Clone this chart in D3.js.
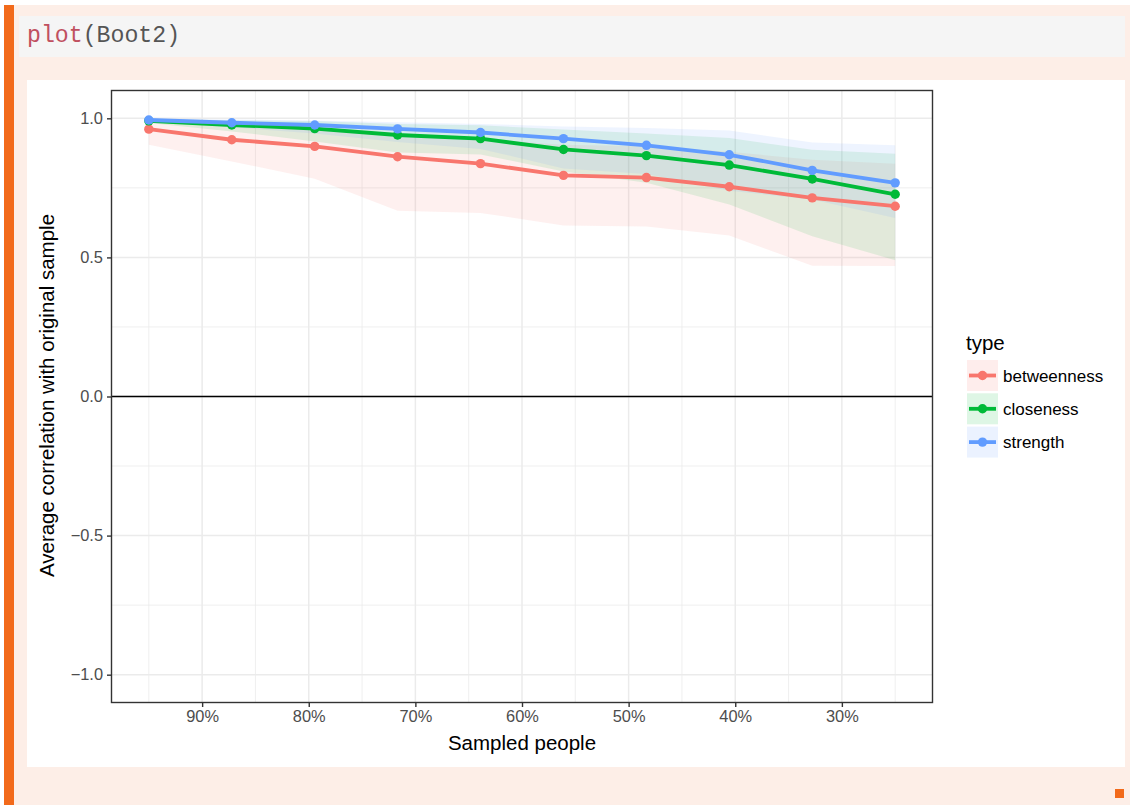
<!DOCTYPE html>
<html>
<head>
<meta charset="utf-8">
<script src="https://cdn.jsdelivr.net/npm/d3@7"></script>
<style>
  body { margin: 0; background: #ffffff; }
  svg text { font-family: "Liberation Sans", Arial, Helvetica, sans-serif; }
</style>
</head>
<body>
<div id="chart"></div>
<script>
// Sampled proportion of people (case-dropping bootstrap), in %
var sampled = [95, 87.22, 79.44, 71.67, 63.89, 56.11, 48.33, 40.56, 32.78, 25];

// mean correlation with the original sample
var betweenness = [0.961, 0.923, 0.899, 0.862, 0.837, 0.795, 0.787, 0.754, 0.714, 0.684];
var closeness   = [0.991, 0.976, 0.963, 0.940, 0.927, 0.888, 0.866, 0.832, 0.782, 0.727];
var strength    = [0.994, 0.984, 0.976, 0.962, 0.949, 0.927, 0.903, 0.869, 0.813, 0.768];

// quantile ribbons (lower / upper)
var betweennessLo = [0.905, 0.845, 0.783, 0.668, 0.660, 0.615, 0.611, 0.579, 0.470, 0.469];
var betweennessHi = [0.990, 0.975, 0.960, 0.940, 0.925, 0.905, 0.900, 0.880, 0.851, 0.837];
var closenessLo   = [0.983, 0.953, 0.917, 0.877, 0.870, 0.809, 0.768, 0.690, 0.576, 0.490];
var closenessHi   = [0.998, 0.993, 0.990, 0.980, 0.975, 0.960, 0.945, 0.929, 0.887, 0.873];
var strengthLo    = [0.988, 0.968, 0.945, 0.915, 0.890, 0.820, 0.800, 0.740, 0.708, 0.642];
var strengthHi    = [0.999, 0.996, 0.992, 0.986, 0.980, 0.971, 0.965, 0.956, 0.913, 0.903];

var xTicks = [90, 80, 70, 60, 50, 40, 30];
var xMinor = [95, 85, 75, 65, 55, 45, 35, 25];
var yTicks = [-1, -0.5, 0, 0.5, 1];
var yMinor = [-0.75, -0.25, 0.25, 0.75];

var types = ["betweenness", "closeness", "strength"];
var colors = ["#F8766D", "#00BA38", "#619CFF"];

var series = [
  { name: "betweenness", mean: betweenness, lo: betweennessLo, hi: betweennessHi },
  { name: "closeness", mean: closeness, lo: closenessLo, hi: closenessHi },
  { name: "strength", mean: strength, lo: strengthLo, hi: strengthHi }
];

var svgWidth = 1130;
var svgHeight = 805;

var svg = d3.select("#chart")
  .append("svg")
  .attr("width", svgWidth)
  .attr("height", svgHeight);

// page chrome: peach block with orange bar, code line, white plot card
svg.append("rect").attr("x", 4).attr("y", 5).attr("width", 1126).attr("height", 800).attr("fill", "#fdeee7");
svg.append("rect").attr("x", 4).attr("y", 5).attr("width", 10).attr("height", 800).attr("fill", "#f26a1b");
svg.append("rect").attr("x", 19).attr("y", 16).attr("width", 1106).attr("height", 41).attr("fill", "#f5f5f5");
svg.append("rect").attr("x", 27).attr("y", 80).attr("width", 1098).attr("height", 687).attr("fill", "#ffffff");
svg.append("rect").attr("x", 1115).attr("y", 789).attr("width", 9).attr("height", 9).attr("fill", "#f26a1b");

var code = svg.append("text")
  .attr("x", 27)
  .attr("y", 42)
  .style("font-family", "'Liberation Mono', 'DejaVu Sans Mono', monospace")
  .style("font-size", "23.2px");
code.append("tspan").attr("fill", "#c0505f").text("plot");
code.append("tspan").attr("fill", "#555555").text("(Boot2)");

// panel
var panel = { left: 111.5, right: 932.5, top: 90.5, bottom: 702.5 };

var x = d3.scaleLinear()
  .domain([98.5, 21.5])
  .range([panel.left, panel.right]);

var y = d3.scaleLinear()
  .domain([-1.1, 1.1])
  .range([panel.bottom, panel.top]);

var grid = svg.append("g");

grid.selectAll(".xminor").data(xMinor).enter().append("line")
  .attr("x1", d => x(d)).attr("x2", d => x(d))
  .attr("y1", panel.top).attr("y2", panel.bottom)
  .attr("stroke", "#ebebeb").attr("stroke-width", 0.8);
grid.selectAll(".yminor").data(yMinor).enter().append("line")
  .attr("y1", d => y(d)).attr("y2", d => y(d))
  .attr("x1", panel.left).attr("x2", panel.right)
  .attr("stroke", "#ebebeb").attr("stroke-width", 0.8);
grid.selectAll(".xmajor").data(xTicks).enter().append("line")
  .attr("x1", d => x(d)).attr("x2", d => x(d))
  .attr("y1", panel.top).attr("y2", panel.bottom)
  .attr("stroke", "#ebebeb").attr("stroke-width", 1.5);
grid.selectAll(".ymajor").data(yTicks).enter().append("line")
  .attr("y1", d => y(d)).attr("y2", d => y(d))
  .attr("x1", panel.left).attr("x2", panel.right)
  .attr("stroke", "#ebebeb").attr("stroke-width", 1.5);

// ribbons
var area = d3.area()
  .x(d => x(d.s))
  .y0(d => y(d.lo))
  .y1(d => y(d.hi));

series.forEach(function(s, i) {
  var pts = sampled.map((v, j) => ({ s: v, lo: s.lo[j], hi: s.hi[j] }));
  svg.append("path")
    .datum(pts)
    .attr("d", area)
    .attr("fill", colors[i])
    .attr("fill-opacity", 0.11);
});

// zero line
svg.append("line")
  .attr("x1", panel.left).attr("x2", panel.right)
  .attr("y1", y(0)).attr("y2", y(0))
  .attr("stroke", "#000000").attr("stroke-width", 1.6);

// lines and points
var line = d3.line()
  .x(d => x(d.s))
  .y(d => y(d.v));

series.forEach(function(s, i) {
  var pts = sampled.map((v, j) => ({ s: v, v: s.mean[j] }));
  svg.append("path")
    .datum(pts)
    .attr("d", line)
    .attr("fill", "none")
    .attr("stroke", colors[i])
    .attr("stroke-width", 3.8);
  svg.selectAll(".pt" + i)
    .data(pts)
    .enter()
    .append("circle")
    .attr("cx", d => x(d.s))
    .attr("cy", d => y(d.v))
    .attr("r", 4.7)
    .attr("fill", colors[i]);
});

// panel border
svg.append("rect")
  .attr("x", panel.left).attr("y", panel.top)
  .attr("width", panel.right - panel.left)
  .attr("height", panel.bottom - panel.top)
  .attr("fill", "none")
  .attr("stroke", "#333333")
  .attr("stroke-width", 1.4);

// axes
var xAxis = svg.append("g")
  .attr("transform", `translate(0, ${panel.bottom})`)
  .call(d3.axisBottom(x).tickValues(xTicks).tickSize(4.5).tickPadding(3).tickFormat(d => d + "%"));
var yAxis = svg.append("g")
  .attr("transform", `translate(${panel.left}, 0)`)
  .call(d3.axisLeft(y).tickValues(yTicks).tickSize(4.5).tickPadding(4).tickFormat(d3.format(".1f")));

[xAxis, yAxis].forEach(function(ax) {
  ax.select(".domain").remove();
  ax.selectAll(".tick line").attr("stroke", "#333333").attr("stroke-width", 1.4);
  ax.selectAll(".tick text")
    .attr("fill", "#4d4d4d")
    .style("font-size", "16.4px")
    .style("font-family", "'Liberation Sans', Arial, sans-serif");
});

// axis titles
svg.append("text")
  .attr("x", (panel.left + panel.right) / 2)
  .attr("y", 750)
  .attr("text-anchor", "middle")
  .style("font-size", "20.5px")
  .attr("fill", "#000000")
  .text("Sampled people");

svg.append("text")
  .attr("transform", `translate(54, ${(panel.top + panel.bottom) / 2 - 1}) rotate(-90)`)
  .attr("text-anchor", "middle")
  .style("font-size", "20.5px")
  .attr("fill", "#000000")
  .text("Average correlation with original sample");

// legend
var legend = svg.append("g");
legend.append("text")
  .attr("x", 966)
  .attr("y", 350)
  .style("font-size", "20.5px")
  .attr("fill", "#000000")
  .text("type");

types.forEach(function(t, i) {
  var top = 360 + i * 33.3;
  legend.append("rect")
    .attr("x", 967).attr("y", top)
    .attr("width", 31).attr("height", 31)
    .attr("fill", colors[i]).attr("fill-opacity", 0.13);
  legend.append("line")
    .attr("x1", 969).attr("x2", 996)
    .attr("y1", top + 15.5).attr("y2", top + 15.5)
    .attr("stroke", colors[i]).attr("stroke-width", 3.8);
  legend.append("circle")
    .attr("cx", 982.5).attr("cy", top + 15.5)
    .attr("r", 4.7)
    .attr("fill", colors[i]);
  legend.append("text")
    .attr("x", 1003)
    .attr("y", top + 21.5)
    .style("font-size", "17px")
    .attr("fill", "#000000")
    .text(t);
});
</script>
</body>
</html>
